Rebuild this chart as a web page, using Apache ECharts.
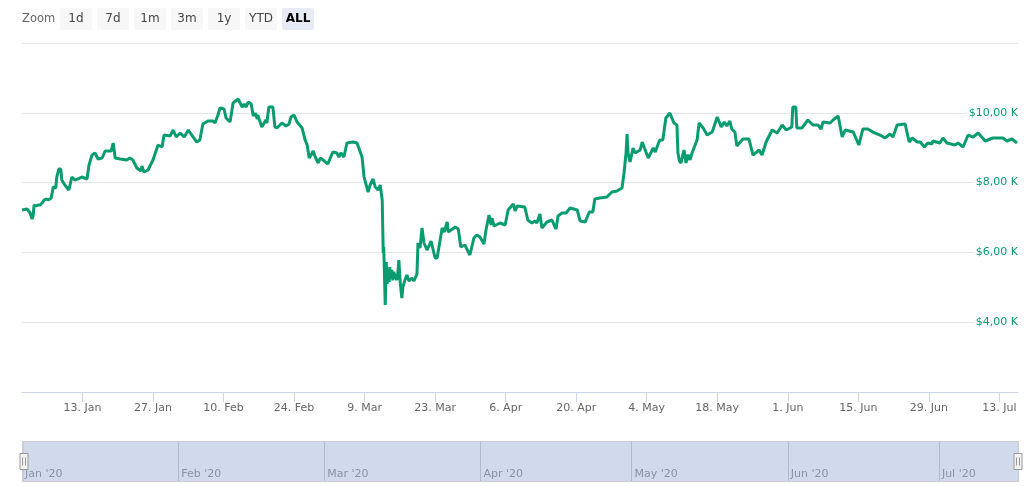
<!DOCTYPE html>
<html>
<head>
<meta charset="utf-8">
<title>Price</title>
<style>
html,body{margin:0;padding:0;background:#fff;}
#mainChart{width:1030px;height:486px;}
</style>
<script src="https://cdn.jsdelivr.net/npm/echarts@6/dist/echarts.min.js"></script>
</head>
<body>
<div id="mainChart"></div>
<script>
// days after 1 Jan 2020
var priceDays = [0,1,1.6,2,2.2,2.4,2.8,3.2,3.6,4,4.4,4.8,5.2,5.4,5.8,6.2,6.7,6.9,7.3,7.7,7.9,8.5,9.3,9.9,10.5,11.9,12.9,13.3,13.9,14.5,15.1,15.9,16.5,17.7,18.1,18.5,19.5,20.8,21.4,22,22.8,23.6,23.8,24.2,25,26,27,27.8,28.2,29.4,30,30.6,31.4,32.2,33,33.7,34.7,35.3,35.9,36.9,37.9,38.3,38.9,39.3,40.1,40.5,41.3,41.9,42.9,43.7,44.1,44.5,44.9,45.5,45.9,46.3,46.7,46.8,47.6,48.4,48.6,49,49.8,50.2,50.6,51.6,52.4,53,53.4,54,54.6,55.6,56.2,56.6,57,57.4,57.8,58.2,58.8,59.2,59.8,60.7,61.7,62.5,62.9,63.3,63.9,64.5,65.7,66.5,67.5,67.9,68.7,69.1,69.7,70.1,70.7,71.1,71.5,71.7,71.8,72.1,
    72.3,72.5,72.7,72.9,73,73.2,73.4,73.6,73.8,74.1,74.4,74.6,74.8,75.1,75.4,75.6,76,76.4,76.8,77.4,77.8,78.4,
    78.6,79,79.4,79.8,80.4,81.2,82,82.4,83.4,83.8,84.4,84.6,86,86.6,87.1,87.9,88.9,89.7,90.3,90.9,91.7,92.1,92.7,93.1,93.3,93.7,94.9,95.9,96.5,97.5,97.9,98.3,99.8,100.4,101.2,101.8,102.2,102.8,103.2,104.2,105.2,106,106.4,107.2,108,108.8,110.2,110.8,111.8,112.6,113.3,113.7,114.7,116.1,117.1,118.1,119.1,119.5,119.9,120.1,120.3,120.7,121.3,121.7,122.7,123.1,123.7,124.3,125.3,125.7,126.2,126.6,127.2,127.8,128.6,129.4,130,
    130.2,130.5,130.8,131.1,131.4,131.8,132.2,132.6,133,
    134,134.4,135.2,136,137,138,138.8,139.4,139.9,140.5,140.9,141.5,141.9,143.1,144.3,145.1,146.3,146.9,147.7,148.9,149.9,150.9,151.7,152.8,153,153.6,153.8,154.8,156,157,158,158.6,159,160.4,161,162,162.8,163.4,165,166.1,166.9,167.9,168.9,170.3,171.3,172.3,172.9,173.7,175.3,176.1,176.7,177.7,178.3,179.1,179.8,180.6,180.8,182.2,182.8,183.6,185.2,185.8,186.8,187.8,188.8,189.8,191.2,192.7,194.7,195.5,196.5,197.5];
var prices = [7215,7243,7129,6957,7043,7358,7329,7358,7358,7415,7501,7530,7501,7472,7558,7874,7845,8160,8389,8389,8074,7931,7788,8160,8074,8160,8103,8504,8790,8848,8676,8705,8905,8905,9134,8705,8676,8647,8705,8647,8418,8332,8475,8303,8361,8647,9077,9020,9363,9335,9507,9306,9421,9306,9507,9363,9163,9220,9679,9764,9764,9707,9936,10137,10108,9850,9736,10280,10395,10165,10251,10165,10309,10251,9908,9994,9822,9936,9593,9793,9707,10165,10165,9593,9564,9707,9621,9679,9879,9936,9736,9564,9220,9077,8705,8790,8905,8733,8561,8705,8647,8532,8877,8848,8733,8848,8733,9134,9163,9134,8733,8160,7731,7931,8103,7874,7788,7931,7501,5983,6155,4493,
    5725,5100,5500,5150,5581,5250,5500,5200,5438,5300,5209,5400,5782,5100,4693,5008,5200,5352,5180,5266,5180,5381,
    6269,6126,6699,6269,6068,6326,5840,5840,6699,6584,6871,6584,6728,6670,6155,6212,5925,6412,6498,6441,6240,6642,7071,6785,6985,6756,6842,6785,7215,7387,7186,7329,7300,6928,6842,6899,6842,7100,6699,6871,6928,6670,7043,7129,7129,7272,7215,6899,6871,7157,7157,7530,7558,7587,7730,7759,7845,8275,8848,9392,8848,8590,8991,8848,8934,9163,8934,8705,8991,8877,9077,9220,9220,9850,9994,9707,9650,
    8848,8620,8561,8750,8934,8561,8800,8650,8848,
    9220,9707,9564,9363,9449,9879,9593,9736,9621,9764,9535,9449,9048,9249,9249,8790,8934,8790,9163,9507,9421,9650,9507,9593,10165,10165,9564,9564,9793,9650,9650,9535,9736,9707,9793,9908,9306,9507,9449,9077,9535,9535,9449,9363,9278,9392,9306,9650,9679,9163,9278,9163,9163,9020,9134,9105,9192,9134,9278,9134,9077,9134,9020,9363,9306,9421,9192,9278,9278,9192,9249,9134];

var tickDates = ['2020-01-13','2020-01-27','2020-02-10','2020-02-24','2020-03-09','2020-03-23','2020-04-06','2020-04-20','2020-05-04','2020-05-18','2020-06-01','2020-06-15','2020-06-29','2020-07-13'];
var tickLabels = ['13. Jan','27. Jan','10. Feb','24. Feb','9. Mar','23. Mar','6. Apr','20. Apr','4. May','18. May','1. Jun','15. Jun','29. Jun','13. Jul'];
var monthDates = ['2020-01-01','2020-02-01','2020-03-01','2020-04-01','2020-05-01','2020-06-01','2020-07-01'];
var monthLabels = ["Jan '20","Feb '20","Mar '20","Apr '20","May '20","Jun '20","Jul '20"];
var zoomButtons = ['1d','7d','1m','3m','1y','YTD','ALL'];

var dayMs = 86400000;
var startTime = Date.UTC(2020, 0, 1);
var endTime = startTime + 197.7 * dayMs;
var tickTimes = tickDates.map(function (d) { return new Date(d).getTime(); });
var monthTimes = monthDates.map(function (d) { return new Date(d).getTime(); });
var seriesData = priceDays.map(function (d, i) { return [startTime + d * dayMs, prices[i]]; });

var fontName = '"DejaVu Sans", Verdana, sans-serif';

// range selector on top
var topGraphics = [{
    type: 'text', left: 22, top: 13,
    style: {text: 'Zoom', fill: '#666666', font: '11.5px ' + fontName}
}];
zoomButtons.forEach(function (name, i) {
    var active = name === 'ALL';
    topGraphics.push({
        type: 'rect', left: 60 + i * 37, top: 8,
        shape: {width: 32, height: 22, r: 2},
        style: {fill: active ? '#e6ebf5' : '#f7f7f7'}
    });
    topGraphics.push({
        type: 'text', x: 76 + i * 37, y: 19,
        style: {
            text: name, align: 'center', verticalAlign: 'middle',
            fill: active ? '#000000' : '#444444',
            font: (active ? 'bold ' : '') + '12px ' + fontName
        }
    });
});

var charts1 = echarts.init(document.getElementById('mainChart'));
var option = {
    animation: false,
    graphic: topGraphics,
    grid: [
        {left: 22, right: 12, top: 43, height: 349},
        {left: 22, right: 12, top: 441, height: 41}
    ],
    xAxis: [
        {
            type: 'value', gridIndex: 0, min: startTime, max: endTime,
            axisLine: {lineStyle: {color: '#ccd6eb'}},
            axisTick: {length: 10, lineStyle: {color: '#ccd6eb'}, customValues: tickTimes},
            splitLine: {show: false},
            axisLabel: {
                customValues: tickTimes,
                color: '#666666', fontSize: 11, fontFamily: fontName, margin: 11,
                hideOverlap: false,
                formatter: function (v) { return tickLabels[tickTimes.indexOf(v)]; }
            }
        },
        {
            type: 'value', gridIndex: 1, min: startTime, max: endTime,
            axisLine: {show: false},
            splitLine: {show: false},
            axisTick: {
                show: true, inside: true, customValues: monthTimes, length: 41,
                lineStyle: {color: '#cdd0d8'}
            },
            axisLabel: {
                customValues: monthTimes,
                inside: true, align: 'left', margin: 2,
                padding: [0, 0, 0, 3],
                color: '#999999', fontSize: 11, fontFamily: fontName,
                hideOverlap: false,
                formatter: function (v) { return monthLabels[monthTimes.indexOf(v)]; }
            }
        }
    ],
    yAxis: [
        {
            type: 'value', gridIndex: 0, min: 2000, max: 12000, interval: 2000,
            position: 'right',
            axisLine: {show: false},
            axisTick: {show: false},
            splitLine: {lineStyle: {color: '#e6e6e6'}},
            axisLabel: {
                inside: true, margin: 0,
                showMinLabel: false, showMaxLabel: false,
                color: '#0b9a6d', fontSize: 11, fontFamily: fontName,
                backgroundColor: '#ffffff',
                padding: [2, 0, 0, 2],
                formatter: function (v) { return '$' + (v / 1000) + ',00 K'; }
            }
        },
        {type: 'value', gridIndex: 1, min: 0, max: 1, show: false}
    ],
    dataZoom: [{
        type: 'slider', xAxisIndex: 0, filterMode: 'none',
        start: 0, end: 100,
        left: 22, right: 12, top: 441, height: 41,
        backgroundColor: 'rgba(0,0,0,0)',
        borderColor: '#cccccc',
        fillerColor: 'rgba(102,133,194,0.3)',
        showDetail: false, showDataShadow: false, brushSelect: false,
        moveHandleSize: 0,
        handleIcon: 'path://M-4,-8 h8 v16 h-8 z M-1.5,-4 v8 M1.5,-4 v8',
        handleSize: 16,
        handleStyle: {color: '#f2f2f2', borderColor: '#999999', borderWidth: 1}
    }],
    series: [{
        name: 'Price',
        type: 'line',
        xAxisIndex: 0, yAxisIndex: 0,
        showSymbol: false,
        sampling: null,
        lineStyle: {color: '#0a9c6f', width: 3},
        data: seriesData
    }]
};
charts1.setOption(option);
</script>
</body>
</html>
